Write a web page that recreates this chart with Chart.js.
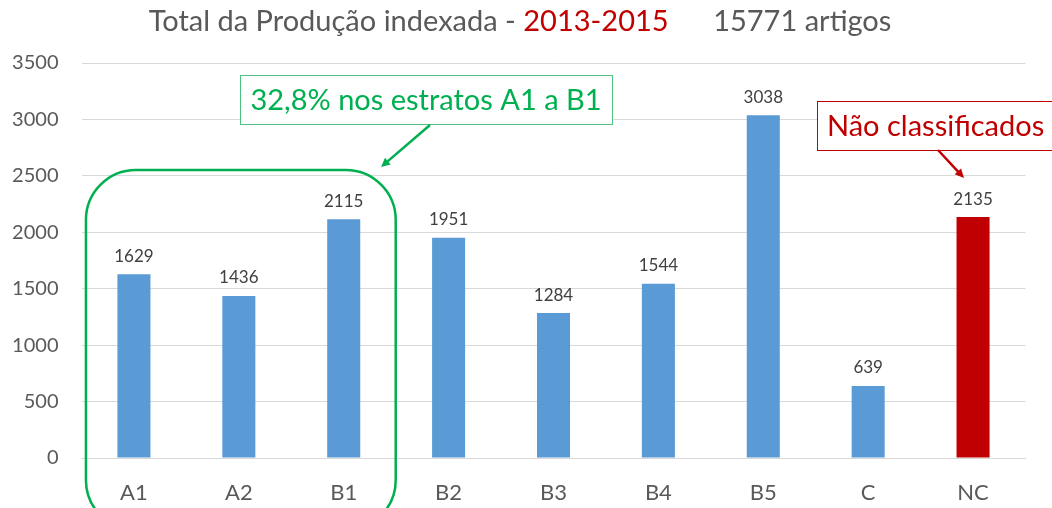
<!DOCTYPE html>
<html><head><meta charset="utf-8">
<script src="https://cdn.jsdelivr.net/npm/chart.js@4/dist/chart.umd.min.js"></script>
<style>html,body{margin:0;padding:0;background:#fff}#wrap{width:1052px;height:508px;position:relative}</style>
</head><body><div id="wrap"><canvas id="c" width="1052" height="508"></canvas></div>
<script>
const categories = ["A1","A2","B1","B2","B3","B4","B5","C","NC"];
const values = [1629,1436,2115,1951,1284,1544,3038,639,2135];
const barColors = ["#5B9BD5","#5B9BD5","#5B9BD5","#5B9BD5","#5B9BD5","#5B9BD5","#5B9BD5","#5B9BD5","#C00000"];
const yTicks = [0,500,1000,1500,2000,2500,3000,3500];
const titleParts = [["Total da Produção indexada - ","#595959"],["2013-2015","#C00000"],["      15771 artigos","#595959"]];
const noteGreen = "32,8% nos estratos A1 a B1";
const noteRed = "Não classificados";
const FONT = "Lato, 'Open Sans', sans-serif";

const decor = {
  id:'decor',
  afterDraw(chart){
    const ctx = chart.ctx;
    const x = chart.scales.x, y = chart.scales.y;
    ctx.save();
    // title
    ctx.font = "29px " + FONT;
    ctx.textBaseline = "middle";
    let total = titleParts.reduce((s,p)=>s+ctx.measureText(p[0]).width,0);
    let tx = 520 - total/2;
    for (const p of titleParts){ ctx.fillStyle=p[1]; ctx.textAlign="left"; ctx.fillText(p[0],tx,22); tx+=ctx.measureText(p[0]).width; }
    // data labels
    ctx.font = "17px " + FONT;
    ctx.fillStyle = "#404040";
    ctx.textAlign = "center";
    const meta = chart.getDatasetMeta(0);
    meta.data.forEach((b,i)=>{ ctx.fillText(String(values[i]), b.x, b.y-18); });
    // green rounded rect around A1..B1
    const xa = x.getPixelForValue(0), xb = x.getPixelForValue(2);
    const l = xa-48, r = xb+52, t = 170, btm = 530, rad = 50;
    ctx.strokeStyle = "#00B050"; ctx.lineWidth = 2.5;
    ctx.beginPath();
    ctx.moveTo(l+rad,t); ctx.lineTo(r-rad,t); ctx.arcTo(r,t,r,t+rad,rad);
    ctx.lineTo(r,btm-rad); ctx.arcTo(r,btm,r-rad,btm,rad);
    ctx.lineTo(l+rad,btm); ctx.arcTo(l,btm,l,btm-rad,rad);
    ctx.lineTo(l,t+rad); ctx.arcTo(l,t,l+rad,t,rad); ctx.closePath(); ctx.stroke();
    // green callout box
    ctx.fillStyle="#fff"; ctx.fillRect(240,75,372,49);
    ctx.lineWidth=1; ctx.strokeStyle="#4CC27F"; ctx.strokeRect(240.5,75.5,372,49);
    ctx.font = "29px " + FONT; ctx.fillStyle="#00B050"; ctx.textAlign="center";
    ctx.fillText(noteGreen, 426, 101);
    arrow(ctx, 430,125, 381,167, "#00B050");
    // red callout box
    ctx.fillStyle="#fff"; ctx.fillRect(817,101,240,49);
    ctx.lineWidth=1; ctx.strokeStyle="#C00000"; ctx.strokeRect(817.5,101.5,240,49);
    ctx.fillStyle="#C00000"; ctx.textAlign="left";
    ctx.fillText(noteRed, 827, 127);
    arrow(ctx, 938,150, 964,178, "#C00000");
    ctx.restore();
  }
};
function arrow(ctx,x1,y1,x2,y2,col){
  const a=Math.atan2(y2-y1,x2-x1), h=10;
  ctx.strokeStyle=col; ctx.fillStyle=col; ctx.lineWidth=2.5;
  ctx.beginPath(); ctx.moveTo(x1,y1); ctx.lineTo(x2-Math.cos(a)*6,y2-Math.sin(a)*6); ctx.stroke();
  ctx.beginPath(); ctx.moveTo(x2,y2);
  ctx.lineTo(x2-h*Math.cos(a-0.45),y2-h*Math.sin(a-0.45));
  ctx.lineTo(x2-h*Math.cos(a+0.45),y2-h*Math.sin(a+0.45)); ctx.closePath(); ctx.fill();
}

new Chart(document.getElementById('c'),{
  type:'bar',
  data:{labels:categories,datasets:[{data:values,backgroundColor:barColors,barPercentage:0.63,categoryPercentage:0.5}]},
  options:{
    responsive:false,animation:false,
    layout:{padding:{top:63,right:26.5,left:0,bottom:0}},
    plugins:{legend:{display:false},tooltip:{enabled:false},title:{display:false}},
    scales:{
      x:{grid:{display:false,drawTicks:false},border:{color:"#d9d9d9"},
         ticks:{color:"#595959",font:{size:22,family:FONT},padding:22},
         afterFit(s){s.height=50;}},
      y:{min:0,max:3500,afterBuildTicks(s){s.ticks=yTicks.map(v=>({value:v}));},
         grid:{color:"#d9d9d9",drawTicks:false},border:{display:false},
         ticks:{color:"#595959",font:{size:20,family:FONT},padding:23,callback:v=>String(v)},
         afterFit(s){s.width=81.5;}}
    }
  },
  plugins:[decor]
});
</script></body></html>
